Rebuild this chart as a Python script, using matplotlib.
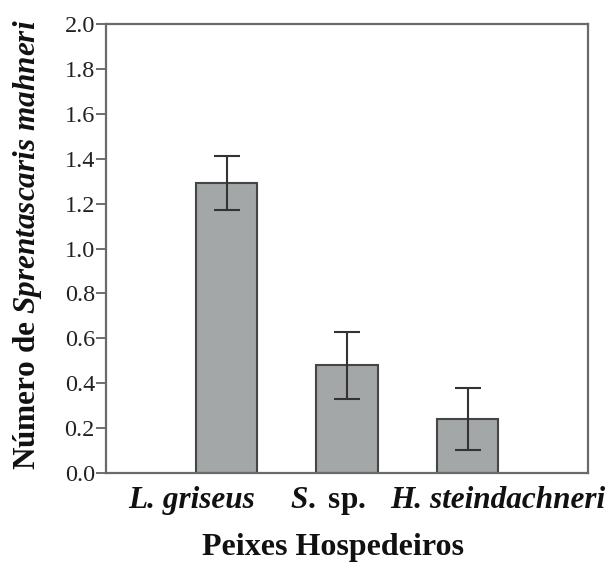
import matplotlib
matplotlib.use("Agg")
import matplotlib.pyplot as plt

# Dados
hospedeiros = ["L. griseus", "S. sp.", "H. steindachneri"]
rotulos = ["L. griseus", r"$\mathit{S.}$ sp.", "H. steindachneri"]
estilos = ["italic", "normal", "italic"]
media = [1.29, 0.48, 0.24]
erro = [0.12, 0.15, 0.137]

plt.rcParams["font.family"] = ["Liberation Serif", "DejaVu Serif"]
plt.rcParams["mathtext.fontset"] = "custom"
plt.rcParams["mathtext.rm"] = "Liberation Serif:bold"
plt.rcParams["mathtext.it"] = "Liberation Serif:italic:bold"
plt.rcParams["mathtext.bf"] = "Liberation Serif:bold"

fig = plt.figure(figsize=(6.11, 5.64), dpi=100)
ax = fig.add_axes([0.1735, 0.1613, 0.7889, 0.7961])

x = list(range(len(hospedeiros)))
ax.bar(x, media, width=0.51, color="#a4a7a8", edgecolor="#454545", linewidth=1.5, zorder=2)
ax.errorbar(x, media, yerr=erro, fmt="none", ecolor="#333333", elinewidth=1.5,
            capsize=9.7, capthick=1.5, zorder=3)

ax.set_xlim(-1.0, 3.0)
ax.set_ylim(0, 2.0)
ax.set_yticks([i / 10 for i in range(0, 21, 2)])
ax.set_yticklabels([f"{i / 10:.1f}" for i in range(0, 21, 2)], fontsize=17.5, color="#222222")
ax.set_xticks([])
ax.tick_params(axis="y", direction="out", length=7, width=1.2, color="#555555", pad=1)

for s in ax.spines.values():
    s.set_color("#6a6a6a")
    s.set_linewidth(1.6)

# rótulos das categorias (deslocados como no original)
offsets = [(-0.29, "center"), (-0.16, "center"), (-0.64, "left")]
for xi, lab, est, (dx, ha) in zip(x, rotulos, estilos, offsets):
    ax.text(xi + dx, -0.062, lab, transform=ax.get_xaxis_transform(), ha=ha, va="center",
            fontsize=22.5, fontweight="bold", fontstyle=est, color="#111111", clip_on=False)

fig.text(333 / 611, 1 - 548 / 564, "Peixes Hospedeiros", ha="center", va="center",
         fontsize=23, fontweight="bold", color="#111111")
fig.text(28 / 611, 1 - 245 / 564, r"Número de $\mathit{Sprentascaris}$ $\mathit{mahneri}$",
         rotation=90, ha="center", va="center", fontsize=22.5, fontweight="bold", color="#111111")

fig.savefig("out.png", dpi=100)
